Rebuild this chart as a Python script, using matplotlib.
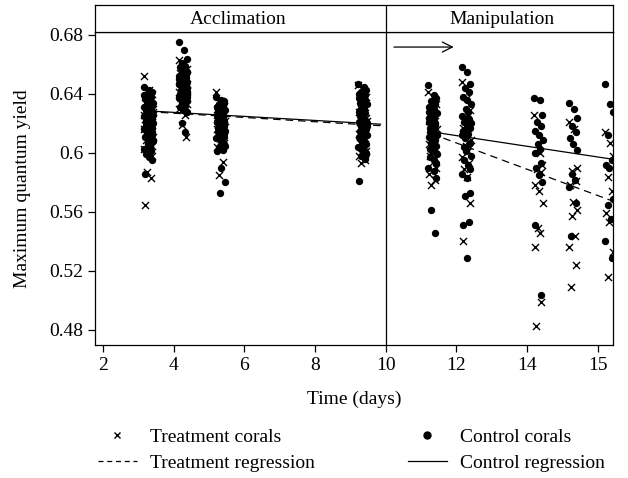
import numpy as np
import matplotlib.pyplot as plt
from matplotlib.lines import Line2D

plt.rcParams['font.family'] = ['Liberation Serif', 'DejaVu Serif']

# sampling days (tick "16" is labelled 15 in the original figure)
days = [3.28, 4.26, 5.32, 9.34, 11.32, 12.28, 14.32, 15.3, 16.32]

# maximum quantum yield, control corals, one list per day
control = [
    [0.645, 0.643, 0.641, 0.640, 0.638, 0.637, 0.636, 0.634, 0.633, 0.632, 0.631, 0.630, 0.629, 0.628,
     0.627, 0.626, 0.625, 0.624, 0.623, 0.622, 0.621, 0.620, 0.619, 0.618, 0.617, 0.616, 0.615, 0.614,
     0.613, 0.612, 0.611, 0.610, 0.608, 0.607, 0.605, 0.603, 0.601, 0.599, 0.597, 0.595, 0.586,
     0.628, 0.624, 0.620, 0.616, 0.630, 0.626, 0.622, 0.618, 0.612, 0.639, 0.635, 0.633, 0.627,
     0.621, 0.617, 0.613, 0.609, 0.606, 0.602, 0.625, 0.619, 0.631, 0.611],
    [0.675, 0.670, 0.664, 0.661, 0.659, 0.658, 0.656, 0.655, 0.654, 0.653, 0.652, 0.651, 0.650, 0.649,
     0.648, 0.647, 0.646, 0.645, 0.644, 0.643, 0.642, 0.641, 0.640, 0.639, 0.638, 0.637, 0.636, 0.635,
     0.634, 0.632, 0.631, 0.629, 0.628, 0.620, 0.614, 0.650, 0.646, 0.642, 0.652, 0.644, 0.638, 0.648,
     0.657, 0.653, 0.649, 0.645, 0.641, 0.637, 0.633, 0.655, 0.647, 0.643, 0.639, 0.651],
    [0.638, 0.636, 0.634, 0.633, 0.632, 0.631, 0.630, 0.629, 0.628, 0.627, 0.626, 0.625, 0.624, 0.623,
     0.622, 0.621, 0.620, 0.619, 0.618, 0.617, 0.616, 0.615, 0.614, 0.613, 0.611, 0.610, 0.608, 0.606,
     0.604, 0.602, 0.601, 0.590, 0.580, 0.573, 0.625, 0.621, 0.617, 0.629, 0.612, 0.635, 0.631,
     0.627, 0.623, 0.619, 0.615, 0.609, 0.605, 0.628, 0.620, 0.613],
    [0.647, 0.645, 0.643, 0.641, 0.639, 0.637, 0.635, 0.633, 0.631, 0.630, 0.628, 0.627, 0.625, 0.624,
     0.622, 0.621, 0.619, 0.618, 0.616, 0.615, 0.613, 0.612, 0.610, 0.608, 0.606, 0.604, 0.602, 0.600,
     0.598, 0.596, 0.581, 0.626, 0.620, 0.614, 0.632, 0.640, 0.636, 0.629, 0.623, 0.617, 0.611,
     0.607, 0.603, 0.599, 0.634, 0.626, 0.618],
    [0.646, 0.639, 0.637, 0.635, 0.633, 0.631, 0.629, 0.627, 0.625, 0.623, 0.621, 0.619, 0.617, 0.615,
     0.613, 0.611, 0.609, 0.607, 0.605, 0.603, 0.601, 0.599, 0.597, 0.595, 0.593, 0.590, 0.588, 0.583,
     0.561, 0.546, 0.624, 0.618, 0.612, 0.606, 0.630, 0.628, 0.620, 0.614, 0.608, 0.600],
    [0.658, 0.655, 0.647, 0.644, 0.641, 0.638, 0.636, 0.633, 0.630, 0.628, 0.625, 0.623, 0.621, 0.619,
     0.617, 0.615, 0.613, 0.610, 0.607, 0.604, 0.601, 0.598, 0.595, 0.592, 0.589, 0.586, 0.583, 0.573,
     0.571, 0.553, 0.551, 0.529, 0.620, 0.616, 0.624, 0.612, 0.606],
    [0.637, 0.636, 0.626, 0.621, 0.618, 0.615, 0.612, 0.609, 0.606, 0.603, 0.600, 0.593, 0.590, 0.585,
     0.580, 0.551, 0.504],
    [0.634, 0.630, 0.624, 0.618, 0.614, 0.610, 0.606, 0.602, 0.586, 0.582, 0.577, 0.566, 0.544],
    [0.647, 0.633, 0.628, 0.612, 0.595, 0.592, 0.590, 0.569, 0.565, 0.555, 0.540, 0.529],
]

# maximum quantum yield, treatment corals
treatment = [
    [0.652, 0.643, 0.640, 0.638, 0.636, 0.634, 0.632, 0.630, 0.629, 0.627, 0.626, 0.625, 0.623, 0.622,
     0.621, 0.619, 0.618, 0.617, 0.615, 0.614, 0.613, 0.611, 0.609, 0.607, 0.605, 0.603, 0.600, 0.598,
     0.587, 0.583, 0.565, 0.631, 0.628, 0.624, 0.620, 0.616],
    [0.663, 0.660, 0.657, 0.655, 0.653, 0.651, 0.649, 0.647, 0.645, 0.643, 0.641, 0.639, 0.637, 0.635,
     0.633, 0.630, 0.626, 0.619, 0.611, 0.650, 0.646, 0.642, 0.654, 0.644],
    [0.641, 0.635, 0.632, 0.630, 0.628, 0.626, 0.624, 0.622, 0.620, 0.618, 0.616, 0.614, 0.612, 0.610,
     0.607, 0.604, 0.594, 0.585, 0.623, 0.619, 0.627],
    [0.646, 0.642, 0.638, 0.634, 0.631, 0.628, 0.625, 0.622, 0.619, 0.616, 0.613, 0.610, 0.607, 0.604,
     0.601, 0.598, 0.595, 0.593, 0.624, 0.617],
    [0.641, 0.637, 0.633, 0.629, 0.626, 0.622, 0.619, 0.616, 0.612, 0.609, 0.606, 0.602, 0.598, 0.594,
     0.590, 0.586, 0.582, 0.578],
    [0.648, 0.637, 0.629, 0.624, 0.620, 0.617, 0.613, 0.609, 0.605, 0.601, 0.597, 0.593, 0.589, 0.584,
     0.566, 0.540],
    [0.626, 0.600, 0.592, 0.589, 0.587, 0.578, 0.574, 0.566, 0.549, 0.546, 0.536, 0.499, 0.483],
    [0.621, 0.616, 0.590, 0.588, 0.581, 0.578, 0.567, 0.561, 0.557, 0.544, 0.536, 0.524, 0.509],
    [0.614, 0.607, 0.598, 0.584, 0.574, 0.559, 0.553, 0.533, 0.516],
]

# horizontal jitter used when plotting the points (days)
jitter = [-0.12, 0.03, 0.10, -0.04, 0.07, -0.09, 0.01, 0.12, -0.02, 0.05, -0.11, 0.08,
          -0.07, 0.02, 0.11, -0.10, 0.06, -0.03, 0.09, -0.06, 0.0, 0.12, -0.08, 0.04, 0.10]

# regression line end points, acclimation and manipulation periods
ctl_reg_x = [[3.28, 9.85], [11.3, 16.35]]
ctl_reg_y = [[0.6285, 0.6195], [0.6143, 0.5960]]
trt_reg_x = [[3.28, 9.85], [11.3, 16.35]]
trt_reg_y = [[0.6280, 0.6185], [0.6130, 0.5680]]

xticks = [2, 4, 6, 8, 10, 12, 14, 16]
xtick_labels = ['2', '4', '6', '8', '10', '12', '14', '15']
yticks = [0.48, 0.52, 0.56, 0.6, 0.64, 0.68]
ytick_labels = ['0.48', '0.52', '0.56', '0.6', '0.64', '0.68']

fig = plt.figure(figsize=(6.28, 4.78), dpi=100)
W, H = 628, 478
ax = fig.add_axes([95 / W, 1 - 345 / H, 518 / W, 313 / H])
strip = fig.add_axes([95 / W, 1 - 32 / H, 518 / W, 27 / H])

def jittered(day, vals):
    return [day + jitter[i % len(jitter)] for i in range(len(vals))]

for d, c, t in zip(days, control, treatment):
    ax.scatter(jittered(d, c), c, s=28, color='black', marker='o', linewidths=0, zorder=3)
    ax.scatter(jittered(d, t[::-1]), t, s=26, color='black', marker='x', linewidths=1.0, zorder=3)

for xs, ys in zip(ctl_reg_x, ctl_reg_y):
    ax.plot(xs, ys, color='black', lw=0.9, zorder=4)
for xs, ys in zip(trt_reg_x, trt_reg_y):
    ax.plot(xs, ys, color='black', lw=0.9, ls=(0, (6, 4)), zorder=4)

ax.axvline(10, color='black', lw=0.9)
ax.annotate('', xy=(12.0, 0.6718), xytext=(10.15, 0.6718),
            arrowprops=dict(arrowstyle='->', color='black', lw=0.9, mutation_scale=18))

ax.set_xlim(1.77, 16.43)
ax.set_ylim(0.4698, 0.682)
ax.set_xticks(xticks)
ax.set_xticklabels(xtick_labels)
ax.set_yticks(yticks)
ax.set_yticklabels(ytick_labels)
ax.tick_params(labelsize=14, direction='out', length=5, width=0.9)
for sp in ax.spines.values():
    sp.set_linewidth(0.9)
ax.set_xlabel('Time (days)', fontsize=14, labelpad=12)
ax.set_ylabel('Maximum quantum yield', fontsize=14, labelpad=13)

strip.set_xlim(1.77, 16.43)
strip.set_ylim(0, 1)
strip.set_xticks([])
strip.set_yticks([])
for sp in strip.spines.values():
    sp.set_linewidth(0.9)
strip.axvline(10, color='black', lw=0.9)
strip.text(5.83, 0.45, 'Acclimation', ha='center', va='center', fontsize=14)
strip.text(13.3, 0.45, 'Manipulation', ha='center', va='center', fontsize=14)

h_tp = Line2D([], [], color='black', marker='x', ls='none', markersize=5, markeredgewidth=1.0)
h_tr = Line2D([], [], color='black', ls=(0, (4, 3)), lw=0.9)
h_cp = Line2D([], [], color='black', marker='o', ls='none', markersize=5)
h_cr = Line2D([], [], color='black', lw=0.9)
leg_kw = dict(frameon=False, fontsize=14, handlelength=2.0, handletextpad=0.7,
              labelspacing=0.45, borderaxespad=0, borderpad=0)
fig.legend([h_tp, h_tr], ['Treatment corals', 'Treatment regression'],
           loc='upper left', bbox_to_anchor=(98 / W, 1 - 428 / H), **leg_kw)
fig.legend([h_cp, h_cr], ['Control corals', 'Control regression'],
           loc='upper left', bbox_to_anchor=(408 / W, 1 - 428 / H), **leg_kw)

plt.savefig('out.png', dpi=100)
